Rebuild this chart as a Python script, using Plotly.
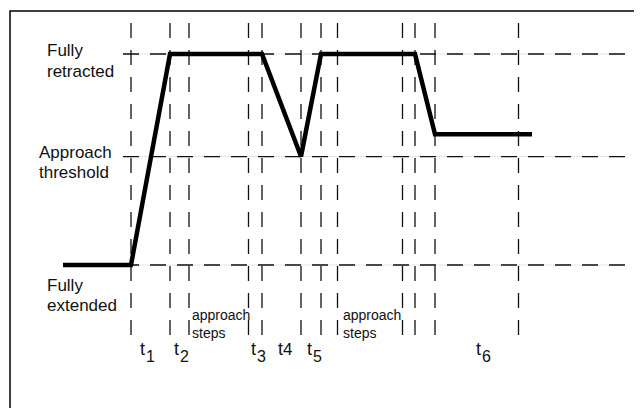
import plotly.graph_objects as go

# ---- data -------------------------------------------------------------
# time markers (vertical dashed guides), arbitrary time units
guide_times = [131, 170, 189, 248.5, 262, 301, 321, 337.5, 402.5, 415, 435, 518.5]
# position levels (% of full retraction)
level_names = [["Fully", "retracted"], ["Approach", "threshold"], ["Fully", "extended"]]
level_values = [100, 51.4, 0]
# actuator position trace
trace_t = [63, 131, 170, 262, 301, 321, 415, 435, 532]
trace_pos = [0, 0, 100, 100, 51.4, 100, 100, 62, 62]
# interval labels
interval_names = ["1", "2", "3", "4", "5", "6"]
interval_subscript = [True, True, True, False, True, True]
interval_label_t = [139, 173, 250, 277, 306, 475]
step_label = ["approach", "steps"]
step_label_t = [190, 341]

# ---- layout helpers (style) --------------------------------------------
X_RANGE = [8, 650]
Y_RANGE = [-71.56, 121.80]
H_GUIDE_SPAN = [123, 625]
V_GUIDE_SPAN = [114.7, -36]
FONT = "Liberation Sans, Arial, sans-serif"


def py(p):
    """page pixel row -> y value (for label placement)"""
    return (265 - p) / 2.11


fig = go.Figure()

# horizontal guides (faint base + dashes)
hx, hy = [], []
for v in level_values:
    hx += [H_GUIDE_SPAN[0], H_GUIDE_SPAN[1], None]
    hy += [v, v, None]
fig.add_trace(go.Scatter(x=hx, y=hy, mode="lines", hoverinfo="skip",
                         line=dict(color="#e4e4e4", width=1)))
fig.add_trace(go.Scatter(x=hx, y=hy, mode="lines", hoverinfo="skip",
                         line=dict(color="#111", width=1.3, dash="16px,11px")))

# vertical dashed guides
vx, vy = [], []
for t in guide_times:
    vx += [t, t, None]
    vy += [V_GUIDE_SPAN[0], V_GUIDE_SPAN[1], None]
fig.add_trace(go.Scatter(x=vx, y=vy, mode="lines", hoverinfo="skip",
                         line=dict(color="#111", width=1.3, dash="15px,12px")))

# position trace
fig.add_trace(go.Scatter(x=trace_t, y=trace_pos, mode="lines",
                         line=dict(color="#000", width=4.5), hoverinfo="skip"))

# level labels (two lines each)
level_label_x = [45, 37, 45]
level_label_rows = [(50, 71), (152, 172), (285, 305)]
for lines, lx, rows in zip(level_names, level_label_x, level_label_rows):
    for line, r in zip(lines, rows):
        fig.add_annotation(x=lx, y=py(r), text=line, showarrow=False, xanchor="left",
                           yanchor="middle", align="left",
                           font=dict(family=FONT, size=17, color="#111"))

# approach steps labels
for sx in step_label_t:
    for line, r in zip(step_label, (315, 333)):
        fig.add_annotation(x=sx, y=py(r), text=line, showarrow=False, xanchor="left",
                           yanchor="middle", align="left",
                           font=dict(family=FONT, size=14, color="#111"))

# interval labels: "t" plus (sub)script digit
for name, sub, tx in zip(interval_names, interval_subscript, interval_label_t):
    fig.add_annotation(x=tx - 1.5, y=py(349), text="t", showarrow=False, xanchor="left",
                       yanchor="middle",
                       font=dict(family=FONT, size=18, color="#111"))
    if sub:
        fig.add_annotation(x=tx + 4.5, y=py(356), text=name, showarrow=False,
                           xanchor="left", yanchor="middle",
                           font=dict(family=FONT, size=16, color="#111"))
    else:
        fig.add_annotation(x=tx + 4, y=py(349.5), text=name, showarrow=False,
                           xanchor="left", yanchor="middle",
                           font=dict(family=FONT, size=17, color="#111"))

# outer frame
fig.add_shape(type="rect", xref="paper", yref="paper",
              x0=2 / 642, x1=1.2, y0=-0.2, y1=1 - 3 / 408,
              line=dict(color="#000", width=1.5))

fig.update_layout(
    width=642, height=408,
    margin=dict(l=0, r=0, t=0, b=0),
    paper_bgcolor="white", plot_bgcolor="white",
    showlegend=False,
    xaxis=dict(range=X_RANGE, visible=False, fixedrange=True),
    yaxis=dict(range=Y_RANGE, visible=False, fixedrange=True),
)

fig.write_html("out.html")
